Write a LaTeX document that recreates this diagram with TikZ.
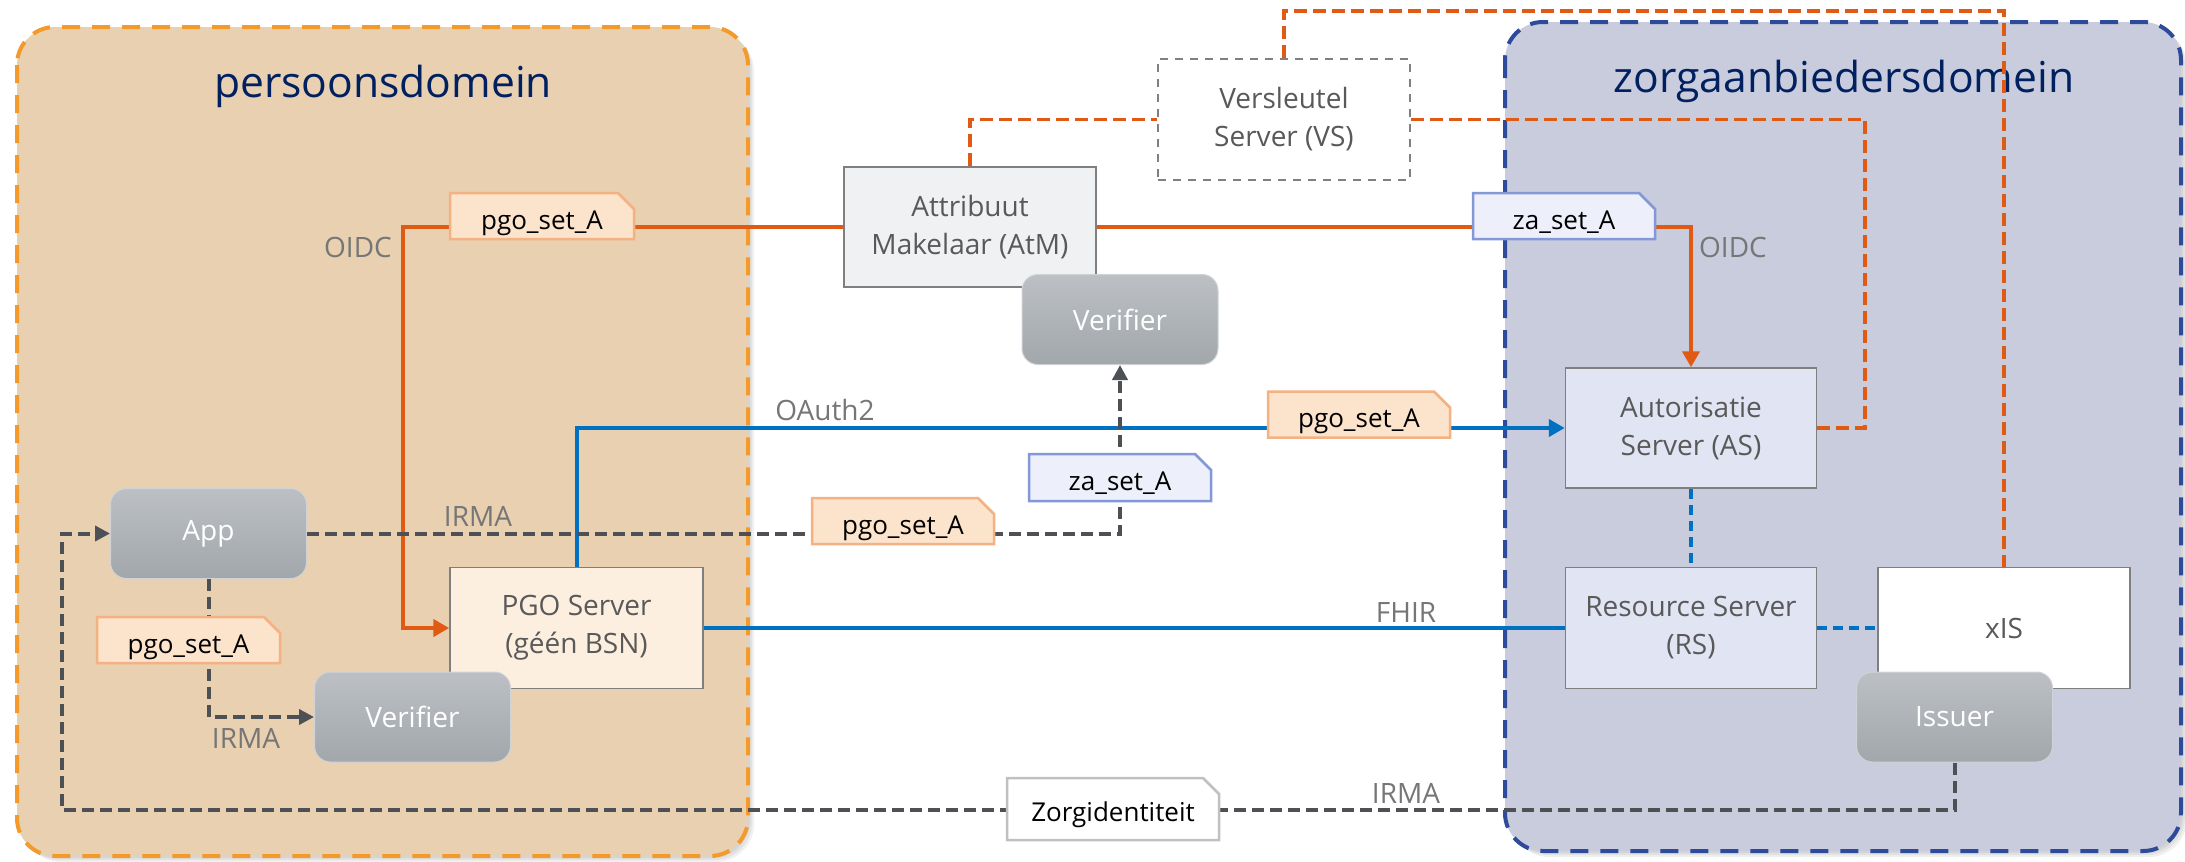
\documentclass[tikz,border=0pt]{standalone}
\usepackage{fontspec}
\setmainfont{Open Sans}
\usetikzlibrary{arrows.meta,shapes.misc,calc}
\definecolor{pfill}{HTML}{E8D0B1}
\definecolor{pborder}{HTML}{F39A2B}
\definecolor{zfill}{HTML}{C8CCDC}
\definecolor{zborder}{HTML}{2E4A9A}
\definecolor{titlec}{HTML}{002060}
\definecolor{oline}{HTML}{E05A14}
\definecolor{bline}{HTML}{0070C0}
\definecolor{dline}{HTML}{4D5156}
\definecolor{ntext}{HTML}{595959}
\definecolor{ltext}{HTML}{767676}
\definecolor{nborder}{HTML}{7F7F7F}
\definecolor{atmfill}{HTML}{F0F1F3}
\definecolor{asfill}{HTML}{E1E4F2}
\definecolor{pgofill}{HTML}{FDEFE0}
\definecolor{gtop}{HTML}{BCC0C4}
\definecolor{gbot}{HTML}{A2A7AC}
\definecolor{ptagfill}{HTML}{FBE3CC}
\definecolor{ptagdraw}{HTML}{F4B183}
\definecolor{ztagfill}{HTML}{EDF0FA}
\definecolor{ztagdraw}{HTML}{8497D6}
\definecolor{vsdraw}{HTML}{808080}
\definecolor{wtagdraw}{HTML}{C0C0C0}
\begin{document}
\begin{tikzpicture}[x=1pt,y=-1pt,
  domainbox/.style={rounded corners=38pt, line width=4pt, dash pattern=on 18pt off 12pt},
  shadowbox/.style={rounded corners=38pt, fill=black, fill opacity=0.06, draw=none},
  title/.style={anchor=base, text=titlec, font=\fontsize{42.6}{50}\selectfont},
  server/.style={draw=nborder, line width=1.5pt, minimum width=252pt, minimum height=121pt,
    text=ntext, font=\fontsize{28}{38}\selectfont, align=center, inner sep=0pt},
  pill/.style={rounded corners=16pt, top color=gtop, bottom color=gbot, draw=gtop!70!white,
    line width=1pt, text=white, font=\fontsize{28}{34}\selectfont,
    minimum width=196pt, minimum height=90pt, inner sep=0pt},
  tagbox/.style={chamfered rectangle, chamfered rectangle corners=north east,
    chamfered rectangle xsep=8pt, chamfered rectangle ysep=8pt,
    line width=2.5pt, text=black, font=\fontsize{26}{30}\selectfont,
    minimum width=182pt, minimum height=46pt, inner sep=0pt,
    text height=28pt, text depth=2pt},
  ptag/.style={tagbox, fill=ptagfill, draw=ptagdraw},
  ztag/.style={tagbox, fill=ztagfill, draw=ztagdraw},
  lbl/.style={anchor=base, text=ltext, font=\fontsize{28}{34}\selectfont, inner sep=0pt},
  oconn/.style={draw=oline, line width=4pt},
  odash/.style={draw=oline, line width=3.8pt, dash pattern=on 13pt off 6pt},
  bconn/.style={draw=bline, line width=4pt},
  bdash/.style={draw=bline, line width=3.8pt, dash pattern=on 10pt off 6pt},
  ddash/.style={draw=dline, line width=4pt, dash pattern=on 12pt off 6pt},
  otip/.style={-{Triangle[length=16pt,width=17pt]}},
  dtip/.style={-{Triangle[length=15pt,width=15pt]}}
]
\useasboundingbox (0,0) rectangle (2185,862);

% domain shadows
\foreach \d in {2,4,6}{
  \path[shadowbox] (17+\d,27+\d) rectangle (748+\d,856+\d);
  \path[shadowbox] (1505+\d,22+\d) rectangle (2181+\d,851+\d);
}
% domains
\draw[domainbox, fill=pfill, draw=pborder] (17,27) rectangle (748,856);
\draw[domainbox, fill=zfill, draw=zborder] (1505,22) rectangle (2181,851);
\node[title] (ptitle) at (383,97) {persoonsdomein};
\node[title] (ztitle) at (1844,92) {zorgaanbiedersdomein};

% servers
\node[server, fill=atmfill, minimum height=120pt] (atm) at (970,227) {Attribuut\\Makelaar (AtM)};
\node[server, fill=white, draw=vsdraw, line width=1.5pt, dash pattern=on 8pt off 7pt] (vs) at (1284,119.5) {Versleutel\\Server (VS)};
\node[server, fill=asfill, minimum width=251pt, minimum height=120pt] (as) at (1691,428) {Autorisatie\\Server (AS)};
\node[server, fill=asfill, minimum width=251pt] (rs) at (1691,628) {Resource Server\\(RS)};
\node[server, fill=white] (xis) at (2004,628) {xIS};
\node[server, fill=pgofill, minimum width=253pt] (pgo) at (576.5,628) {PGO Server\\(géén BSN)};

% pills
\node[pill] (vtop) at (1120,319.5) {Verifier};
\node[pill] (vlow) at (412.5,717) {Verifier};
\node[pill] (app) at (208.5,533.5) {App};
\node[pill] (issuer) at (1954.5,717) {Issuer};

% bend points
\coordinate (oL) at (403,227);
\coordinate (vsup) at (1284,11);
\coordinate (oR) at (1865,428);
\coordinate (dL) at (62,810);

% orange solid
\draw[oconn, otip] (atm.west) -- (oL) |- (pgo.west);
\draw[oconn, otip] (atm.east) -| (as.north);
% orange dashed
\draw[odash] (atm.north) |- (vs.west);
\draw[odash] (vs.north) -- (vsup) -| (xis.north);
\draw[odash] (vs.east) -| (oR) -- (as.east);
% blue
\draw[bconn, otip] (pgo.north) |- (as.west);
\draw[bconn] (pgo.east) -- (rs.west);
\draw[bdash] (as.south) -- (rs.north);
\draw[bdash] (rs.east) -- (xis.west);
% dark dashed
\draw[ddash, dtip] (app.east) -| (vtop.south);
\draw[ddash, dtip] (app.south) |- (vlow.west);
\draw[ddash, dtip] (issuer.south) |- (dL) |- (app.west);

% tags
\node[ptag, minimum width=184pt] (t1) at (542,216) {pgo\_set\_A};
\node[ztag] (t2) at (1564,216) {za\_set\_A};
\node[ptag] (t3) at (1359,414.5) {pgo\_set\_A};
\node[ztag, minimum height=47pt] (t4) at (1120,477.5) {za\_set\_A};
\node[ptag] (t5) at (903,521) {pgo\_set\_A};
\node[ptag, minimum width=183pt] (t6) at (188.5,640) {pgo\_set\_A};
\node[tagbox, fill=white, draw=wtagdraw, minimum width=212pt, minimum height=62pt, text height=30pt, text depth=6pt] (t7) at (1113,809) {Zorgidentiteit};

% labels
\node[lbl] (l1) at (358,257) {OIDC};
\node[lbl] (l2) at (1733,257) {OIDC};
\node[lbl] (l3) at (825,420) {OAuth2};
\node[lbl] (l4) at (478,526) {IRMA};
\node[lbl] (l5) at (246,748) {IRMA};
\node[lbl] (l6) at (1406,622) {FHIR};
\node[lbl] (l7) at (1406,803) {IRMA};
\end{tikzpicture}
\end{document}
